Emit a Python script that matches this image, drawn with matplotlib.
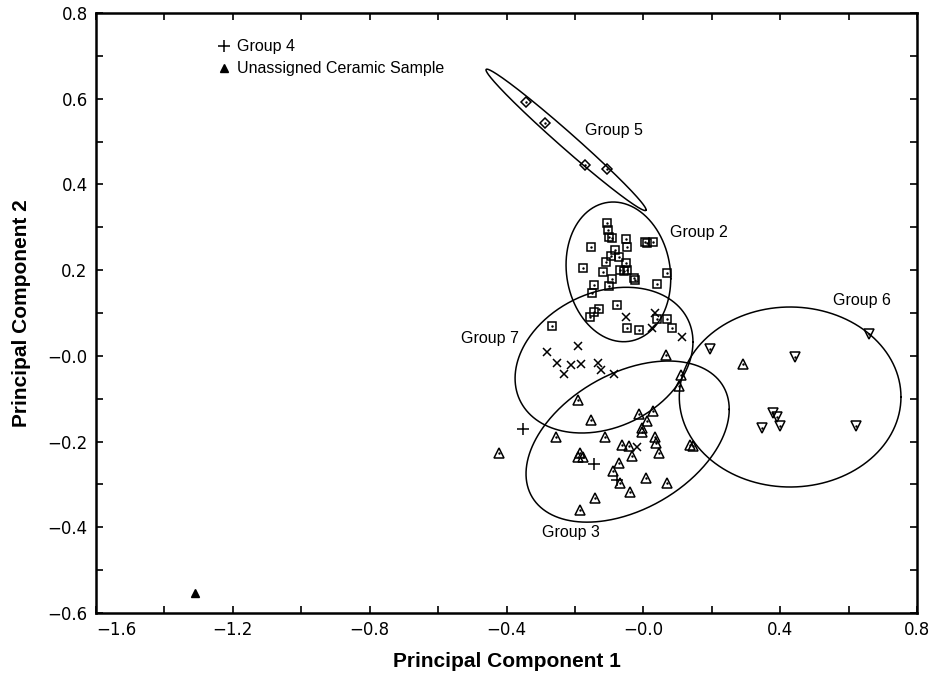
import matplotlib
matplotlib.use("Agg")
import matplotlib.pyplot as plt
import numpy as np

# scores on the first two principal components
g2_x = [-0.107, -0.103, -0.099, -0.092, -0.154, -0.050, -0.048, 0.005, 0.012, 0.028,
        -0.083, -0.095, -0.070, -0.109, -0.050, -0.175, -0.117, -0.068, -0.058, -0.047,
        -0.027, -0.024, -0.092, -0.100, -0.143, -0.151, 0.069, 0.041, -0.131, -0.144,
        -0.156, -0.077, 0.039, 0.070, 0.084, -0.048, -0.014, -0.266]
g2_y = [0.311, 0.294, 0.277, 0.276, 0.255, 0.273, 0.253, 0.266, 0.264, 0.266,
        0.247, 0.233, 0.230, 0.220, 0.216, 0.204, 0.196, 0.200, 0.199, 0.200,
        0.181, 0.177, 0.179, 0.163, 0.165, 0.146, 0.193, 0.168, 0.109, 0.103,
        0.091, 0.119, 0.087, 0.086, 0.066, 0.064, 0.060, 0.070]

g3_x = [0.066, 0.110, 0.103, -0.190, -0.153, -0.013, 0.029, 0.012, -0.003, -0.004,
        -0.255, -0.112, 0.034, 0.037, -0.061, -0.042, -0.185, -0.190, -0.177, -0.034,
        0.046, -0.422, 0.137, 0.144, -0.071, -0.088, -0.068, 0.007, 0.070, -0.141,
        -0.039, -0.185, 0.291]
g3_y = [0.002, -0.045, -0.070, -0.103, -0.150, -0.136, -0.128, -0.151, -0.169, -0.178,
        -0.190, -0.189, -0.190, -0.203, -0.208, -0.210, -0.227, -0.235, -0.237, -0.234,
        -0.227, -0.227, -0.208, -0.210, -0.251, -0.268, -0.297, -0.286, -0.297, -0.331,
        -0.317, -0.360, -0.020]

g4_x = [-0.352, -0.144, -0.077]
g4_y = [-0.171, -0.252, -0.290]

g5_x = [-0.343, -0.287, -0.170, -0.107]
g5_y = [0.592, 0.543, 0.445, 0.436]

g6_x = [0.195, 0.442, 0.661, 0.380, 0.392, 0.398, 0.346, 0.621]
g6_y = [0.015, -0.003, 0.050, -0.134, -0.143, -0.164, -0.169, -0.164]

g7_x = [-0.051, 0.034, 0.025, 0.113, -0.190, -0.282, -0.251, -0.232, -0.211, -0.182,
        -0.134, -0.124, -0.085, -0.019]
g7_y = [0.090, 0.101, 0.064, 0.043, 0.023, 0.008, -0.017, -0.043, -0.021, -0.020,
        -0.017, -0.033, -0.043, -0.213]

unassigned_x = [-1.311]
unassigned_y = [-0.554]

# confidence ellipses: centre x, centre y, half width, half height, correlation
ellipses = {
    "Group 2": (-0.073, 0.196, 0.153, 0.163, -0.10),
    "Group 3": (-0.046, -0.200, 0.297, 0.188, 0.40),
    "Group 5": (-0.226, 0.504, 0.234, 0.165, -0.989),
    "Group 6": (0.429, -0.096, 0.324, 0.210, 0.0),
    "Group 7": (-0.115, -0.010, 0.260, 0.170, 0.25),
}

x_ticks = np.round(np.arange(-1.6, 0.81, 0.2), 1)
x_tick_labels = ["\u22121.6", "", "\u22121.2", "", "\u22120.8", "", "\u22120.4", "",
                 "\u22120.0", "", "0.4", "", "0.8"]
y_ticks = np.round(np.arange(-0.6, 0.81, 0.1), 1)
y_tick_labels = ["\u22120.6", "", "\u22120.4", "", "\u22120.2", "", "\u22120.0", "",
                 "0.2", "", "0.4", "", "0.6", "", "0.8"]


def ellipse_xy(cx, cy, a, b, rho):
    t = np.linspace(0, 2 * np.pi, 400)
    d = np.arccos(rho)
    return cx + a * np.cos(t), cy + b * np.cos(t - d)


fig = plt.figure(figsize=(9.33, 6.74), dpi=100)
ax = fig.add_axes([0.1029, 0.0905, 0.88, 0.8902])

mk = dict(linestyle="none", markerfacecolor="none", markeredgecolor="black",
          markeredgewidth=1.1)
dot = dict(linestyle="none", marker=".", markersize=1.5, color="black")

ax.plot(g2_x, g2_y, marker="s", markersize=6, **mk)
ax.plot(g2_x, g2_y, **dot)
ax.plot(g3_x, g3_y, marker="^", markersize=7.5, **mk)
ax.plot(g3_x, g3_y, **dot)
ax.plot(g5_x, g5_y, marker="D", markersize=5.5, **mk)
ax.plot(g5_x, g5_y, **dot)
ax.plot(g6_x, g6_y, marker="v", markersize=7.5, **mk)
ax.plot(g6_x, g6_y, **dot)
ax.plot(g7_x, g7_y, marker="x", markersize=6, **mk)
h4, = ax.plot(g4_x, g4_y, marker="+", markersize=8, label="Group 4", **mk)
hu, = ax.plot(unassigned_x, unassigned_y, linestyle="none", marker="^", markersize=6,
              color="black", label="Unassigned Ceramic Sample")

for name, (cx, cy, a, b, rho) in ellipses.items():
    ex, ey = ellipse_xy(cx, cy, a, b, rho)
    ax.plot(ex, ey, color="black", linewidth=1.1)

lab = dict(fontsize=11.5, family="Liberation Sans")
ax.text(-0.170, 0.527, "Group 5", ha="left", va="center", **lab)
ax.text(0.078, 0.288, "Group 2", ha="left", va="center", **lab)
ax.text(-0.363, 0.041, "Group 7", ha="right", va="center", **lab)
ax.text(0.640, 0.130, "Group 6", ha="center", va="center", **lab)
ax.text(-0.211, -0.413, "Group 3", ha="center", va="center", **lab)

ax.legend(handles=[h4, hu], loc="upper left", bbox_to_anchor=(0.136, 0.975),
          frameon=False, handlelength=0.7, handletextpad=0.45, labelspacing=0.45,
          borderpad=0.2, prop={"family": "Liberation Sans", "size": 11.5})

ax.set_xlim(-1.6, 0.8)
ax.set_ylim(-0.6, 0.8)
ax.set_xticks(x_ticks)
ax.set_xticklabels(x_tick_labels)
ax.get_xticklabels()[0].set_horizontalalignment("left")
ax.set_yticks(y_ticks)
ax.set_yticklabels(y_tick_labels)
ax.tick_params(direction="in", length=5, width=1.2, top=True, right=True,
               labelsize=12, pad=6)
for s in ax.spines.values():
    s.set_linewidth(1.8)

ax.set_xlabel("Principal Component 1", fontsize=15, fontweight="bold",
              family="Liberation Sans", labelpad=9)
ax.set_ylabel("Principal Component 2", fontsize=15, fontweight="bold",
              family="Liberation Sans", labelpad=12)

fig.savefig("out.png", dpi=100)
